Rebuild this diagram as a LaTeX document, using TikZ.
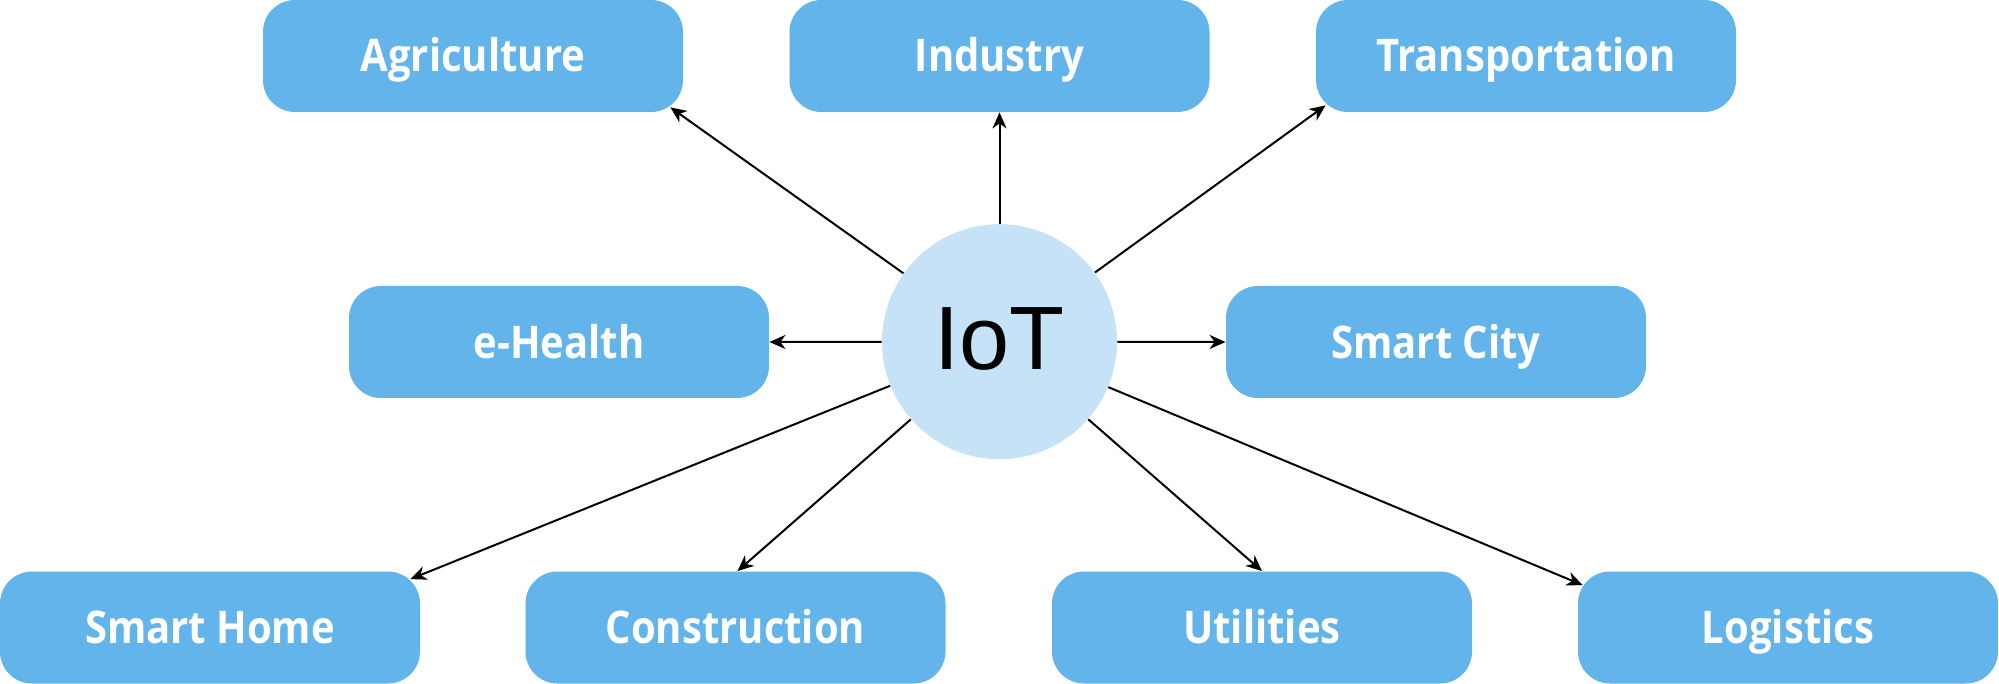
\documentclass[tikz,border=0pt]{standalone}
\usepackage{fontspec}
\setmainfont{Open Sans}[FakeStretch=0.89]
\newfontfamily\iotfont{Liberation Sans}
\usetikzlibrary{arrows.meta}
\definecolor{boxblue}{RGB}{99,180,234}
\definecolor{circblue}{RGB}{197,226,247}
\begin{document}
\begin{tikzpicture}[x=0.5pt,y=-0.5pt,
  box/.style={fill=boxblue, rounded corners=16pt, minimum width=210pt, minimum height=56pt,
    inner sep=0pt, text=white, text height=16pt, text depth=0pt,
    font=\fontsize{22.5}{26}\selectfont\bfseries},
  hub/.style={circle, fill=circblue, minimum size=117.5pt, inner sep=0pt,
    text height=23.5pt, text depth=0pt, font=\iotfont\fontsize{45}{50}\selectfont},
  conn/.style={draw=black, line width=1pt, -{Stealth[length=8pt,width=7pt,inset=2.5pt]}}]
\useasboundingbox (0,0) rectangle (1999,684);
% boxes
\node[box] (agri) at (473,56) {Agriculture};
\node[box] (ind) at (999.5,56) {Industry};
\node[box] (trans) at (1526,56) {Transportation};
\node[box] (ehealth) at (559,342) {e-Health};
\node[box] (city) at (1436,342) {Smart City};
\node[box] (home) at (210,627.5) {Smart Home};
\node[box] (cons) at (735.5,627.5) {Construction};
\node[box] (util) at (1262,627.5) {Utilities};
\node[box] (logi) at (1788,627.5) {Logistics};
% hub
\node[hub] (iot) at (999.5,341.7) {\raisebox{-2pt}{IoT}};
% arrow tips
\coordinate (tagri) at ([shift={(-13,-5)}]agri.south east);
\coordinate (tind) at (ind.south);
\coordinate (ttrans) at ([shift={(10,-7)}]trans.south west);
\coordinate (teh) at (ehealth.east);
\coordinate (tcity) at (city.west);
\coordinate (thome) at ([shift={(-10,8)}]home.north east);
\coordinate (tcons) at ([shift={(2,0)}]cons.north);
\coordinate (tutil) at (util.north);
\coordinate (tlogi) at ([shift={(5,14)}]logi.north west);
% connectors
\foreach \t in {tagri,tind,ttrans,teh,tcity,thome,tcons,tutil,tlogi}
  \draw[conn] (iot) -- (\t);
\end{tikzpicture}
\end{document}
